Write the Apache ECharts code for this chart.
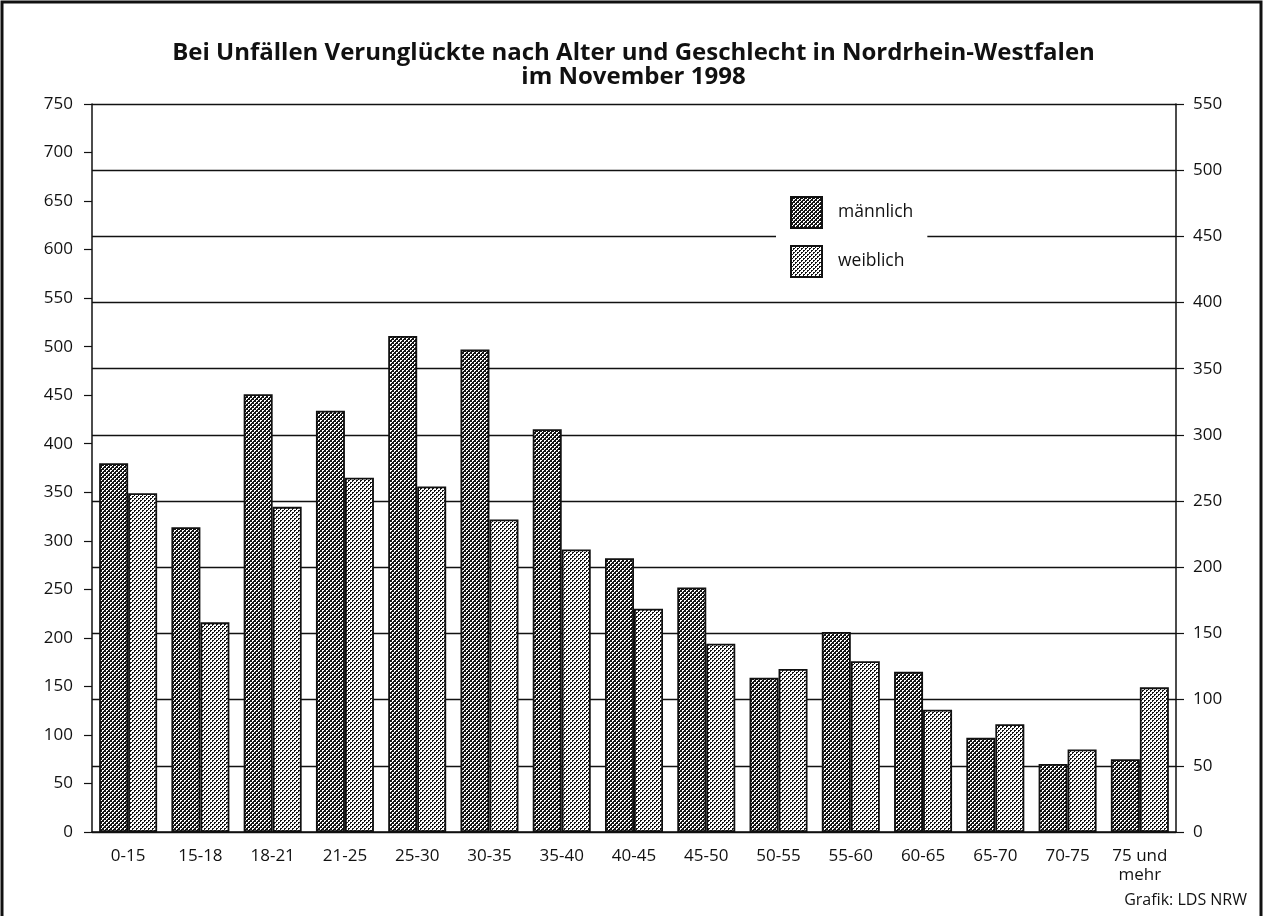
<!DOCTYPE html>
<html>
<head>
<meta charset="utf-8">
<script src="https://cdn.jsdelivr.net/npm/echarts@6/dist/echarts.min.js"></script>
<style>
html,body{margin:0;padding:0;background:#fff;}
#c{width:1267px;height:916px;}
</style>
</head>
<body>
<div id="c"></div>
<script>
const categories = ['0-15','15-18','18-21','21-25','25-30','30-35','35-40','40-45','45-50','50-55','55-60','60-65','65-70','70-75','75 und\nmehr'];
const maleValues = [380, 314, 451, 434, 511, 497, 415, 282, 252, 159, 206, 165, 97, 70, 75];
const femaleValues = [349, 216, 335, 365, 356, 322, 291, 230, 194, 168, 176, 126, 111, 85, 149];
const leftTicks = {min: 0, max: 750, interval: 50};
const rightTicks = {min: 0, max: 550, interval: 50};

function makePattern(size, cells, fg, bg) {
  const cv = document.createElement('canvas');
  cv.width = size; cv.height = size;
  const ctx = cv.getContext('2d');
  ctx.fillStyle = bg; ctx.fillRect(0, 0, size, size);
  ctx.fillStyle = fg;
  cells.forEach(p => ctx.fillRect(p[0], p[1], 1, 1));
  return {image: cv, repeat: 'repeat'};
}
const diagCells = [[0,0],[1,0],[0,1],[2,2],[3,2],[2,3]];
// dark diagonal checker (männlich): white holes on black
const malePattern = makePattern(4, diagCells, '#ffffff', '#151515');
// light dotted (weiblich): black dots on white
const femalePattern = makePattern(4, diagCells, '#151515', '#ffffff');

const font = '"Open Sans", "DejaVu Sans", sans-serif';
const chart = echarts.init(document.getElementById('c'), null, {renderer: 'canvas'});
chart.setOption({
  backgroundColor: '#fff',
  animation: false,
  title: {
    text: 'Bei Unfällen Verunglückte nach Alter und Geschlecht in Nordrhein-Westfalen\nim November 1998',
    left: 'center',
    top: 36,
    textStyle: {fontFamily: font, fontWeight: 'bold', fontSize: 24, color: '#111', lineHeight: 24, align: 'center'}
  },
  legend: {
    orient: 'vertical',
    left: 776,
    top: 190,
    padding: [6, 14, 4, 14],
    backgroundColor: '#fff',
    itemWidth: 31,
    itemHeight: 31,
    itemGap: 16,
    icon: 'rect',
    textStyle: {fontFamily: font, fontSize: 17.5, color: '#111', padding: [0, 0, 0, 11]},
    data: ['männlich', 'weiblich']
  },
  grid: {left: 92, right: 91, top: 104, bottom: 84, containLabel: false},
  xAxis: {
    type: 'category',
    data: categories,
    axisLine: {lineStyle: {color: '#111', width: 1.5}},
    axisTick: {show: false},
    axisLabel: {fontFamily: font, fontSize: 17, color: '#111', margin: 15, lineHeight: 19, interval: 0}
  },
  yAxis: [
    {
      type: 'value', position: 'left',
      min: leftTicks.min, max: leftTicks.max, interval: leftTicks.interval,
      axisLine: {show: true, lineStyle: {color: '#111', width: 1.5}},
      axisTick: {show: true, length: 8, lineStyle: {color: '#111', width: 1.2}},
      axisLabel: {fontFamily: font, fontSize: 17, color: '#111', margin: 19},
      splitLine: {show: false}
    },
    {
      type: 'value', position: 'right',
      min: rightTicks.min, max: rightTicks.max, interval: rightTicks.interval,
      axisLine: {show: true, lineStyle: {color: '#111', width: 1.5}},
      axisTick: {show: true, length: 8, lineStyle: {color: '#111', width: 1.2}},
      axisLabel: {fontFamily: font, fontSize: 17, color: '#111', margin: 17},
      splitLine: {show: true, lineStyle: {color: '#111', width: 1.4}}
    }
  ],
  series: [
    {
      name: 'männlich', type: 'bar', yAxisIndex: 0, data: maleValues,
      barWidth: 29, barGap: '0%',
      itemStyle: {color: malePattern, borderColor: '#111', borderWidth: 1.8},
      z: 3
    },
    {
      name: 'weiblich', type: 'bar', yAxisIndex: 0, data: femaleValues,
      barWidth: 29, barGap: '0%',
      itemStyle: {color: femalePattern, borderColor: '#111', borderWidth: 1.8},
      z: 3
    }
  ],
  graphic: [
    {type: 'rect', shape: {x: 2, y: 2, width: 1259, height: 940}, style: {fill: 'none', stroke: '#111', lineWidth: 3}, silent: true},
    {type: 'text', right: 20, top: 892, style: {text: 'Grafik: LDS NRW', font: '16px ' + font, fill: '#111'}}
  ]
});
</script>
</body>
</html>
